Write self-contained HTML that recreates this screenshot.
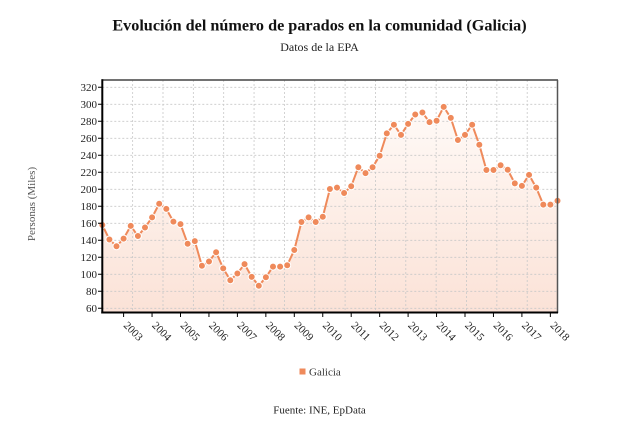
<!DOCTYPE html>
<html><head><meta charset="utf-8"><style>
html,body{margin:0;padding:0;background:#fff;}
svg{display:block;font-family:"Liberation Serif",serif;}
</style></head><body>
<svg width="639" height="431" viewBox="0 0 639 431" xmlns="http://www.w3.org/2000/svg">
<defs>
<linearGradient id="g" x1="0" y1="0" x2="0" y2="1">
<stop offset="0" stop-color="#fffaf7"/>
<stop offset="1" stop-color="#fbe2d7"/>
</linearGradient>
</defs>
<rect width="639" height="431" fill="#fff"/>
<text x="319.5" y="30.5" text-anchor="middle" font-size="16.2" font-weight="bold" fill="#111">Evolución del número de parados en la comunidad (Galicia)</text>
<text x="319.5" y="51" text-anchor="middle" font-size="12" fill="#222">Datos de la EPA</text>
<text transform="translate(35,204) rotate(-90)" text-anchor="middle" font-size="11" fill="#555">Personas (Miles)</text>

<!-- area -->
<polygon fill="url(#g)" points="102.3,312.5 102.3,225 109.4,239.45 116.5,246.25 123.6,238.6 130.75,225.85 137.9,236.05 145,227.55 152.1,217.35 159.2,203.75 166.3,208.85 173.4,221.6 180.5,224.15 187.65,243.7 194.8,241.15 201.9,265.8 209,261.55 216.1,252.2 223.2,268.35 230.3,280.25 237.4,273.45 244.55,264.1 251.7,276.85 258.8,285.7 265.9,277.3 273,266.65 280.1,266.65 287.2,265.3 294.3,250 301.45,222 308.6,217.35 315.7,222 322.8,216.7 329.9,189 337,187.6 344.1,193 351.2,186.3 358.35,167.2 365.5,173.15 372.6,167.2 379.7,155.7 386.8,133.4 393.9,124.7 401,134.9 408.1,123.85 415.25,114.5 422.4,112.55 429.5,122.15 436.6,120.7 443.7,106.85 450.8,117.9 457.9,140 465,134.9 472.15,124.7 479.3,144.7 486.4,170 493.5,170 500.6,165.3 507.7,169.75 514.8,183.35 521.9,185.9 529.05,174.85 536.2,187.6 543.3,204.6 550.4,204.6 557.5,200.7 557.5,312.5"/>

<!-- grid -->
<g stroke="#c8c8c8" stroke-width="0.8" stroke-dasharray="2,2" fill="none">
<path d="M102.3 308.3H557.5M102.3 291.3H557.5M102.3 274.3H557.5M102.3 257.3H557.5M102.3 240.3H557.5M102.3 223.3H557.5M102.3 206.3H557.5M102.3 189.3H557.5M102.3 172.3H557.5M102.3 155.3H557.5M102.3 138.3H557.5M102.3 121.3H557.5M102.3 104.3H557.5M102.3 87.3H557.5"/>
<path d="M132.65 80V312.5M163 80V312.5M193.35 80V312.5M223.7 80V312.5M254.05 80V312.5M284.4 80V312.5M314.75 80V312.5M345.1 80V312.5M375.45 80V312.5M405.8 80V312.5M436.15 80V312.5M466.5 80V312.5M496.85 80V312.5M527.2 80V312.5"/>
</g>

<!-- line -->
<polyline fill="none" stroke="#ef8a5b" stroke-width="2" stroke-linejoin="round" points="102.3,225 109.4,239.45 116.5,246.25 123.6,238.6 130.75,225.85 137.9,236.05 145,227.55 152.1,217.35 159.2,203.75 166.3,208.85 173.4,221.6 180.5,224.15 187.65,243.7 194.8,241.15 201.9,265.8 209,261.55 216.1,252.2 223.2,268.35 230.3,280.25 237.4,273.45 244.55,264.1 251.7,276.85 258.8,285.7 265.9,277.3 273,266.65 280.1,266.65 287.2,265.3 294.3,250 301.45,222 308.6,217.35 315.7,222 322.8,216.7 329.9,189 337,187.6 344.1,193 351.2,186.3 358.35,167.2 365.5,173.15 372.6,167.2 379.7,155.7 386.8,133.4 393.9,124.7 401,134.9 408.1,123.85 415.25,114.5 422.4,112.55 429.5,122.15 436.6,120.7 443.7,106.85 450.8,117.9 457.9,140 465,134.9 472.15,124.7 479.3,144.7 486.4,170 493.5,170 500.6,165.3 507.7,169.75 514.8,183.35 521.9,185.9 529.05,174.85 536.2,187.6 543.3,204.6 550.4,204.6 557.5,200.7"/>

<!-- markers -->
<g fill="#ef8a5b" stroke="#fff" stroke-width="1">
<circle cx="102.3" cy="225" r="3.5"/><circle cx="109.4" cy="239.45" r="3.5"/><circle cx="116.5" cy="246.25" r="3.5"/><circle cx="123.6" cy="238.6" r="3.5"/><circle cx="130.75" cy="225.85" r="3.5"/><circle cx="137.9" cy="236.05" r="3.5"/><circle cx="145" cy="227.55" r="3.5"/><circle cx="152.1" cy="217.35" r="3.5"/><circle cx="159.2" cy="203.75" r="3.5"/><circle cx="166.3" cy="208.85" r="3.5"/><circle cx="173.4" cy="221.6" r="3.5"/><circle cx="180.5" cy="224.15" r="3.5"/><circle cx="187.65" cy="243.7" r="3.5"/><circle cx="194.8" cy="241.15" r="3.5"/><circle cx="201.9" cy="265.8" r="3.5"/><circle cx="209" cy="261.55" r="3.5"/><circle cx="216.1" cy="252.2" r="3.5"/><circle cx="223.2" cy="268.35" r="3.5"/><circle cx="230.3" cy="280.25" r="3.5"/><circle cx="237.4" cy="273.45" r="3.5"/><circle cx="244.55" cy="264.1" r="3.5"/><circle cx="251.7" cy="276.85" r="3.5"/><circle cx="258.8" cy="285.7" r="3.5"/><circle cx="265.9" cy="277.3" r="3.5"/><circle cx="273" cy="266.65" r="3.5"/><circle cx="280.1" cy="266.65" r="3.5"/><circle cx="287.2" cy="265.3" r="3.5"/><circle cx="294.3" cy="250" r="3.5"/><circle cx="301.45" cy="222" r="3.5"/><circle cx="308.6" cy="217.35" r="3.5"/><circle cx="315.7" cy="222" r="3.5"/><circle cx="322.8" cy="216.7" r="3.5"/><circle cx="329.9" cy="189" r="3.5"/><circle cx="337" cy="187.6" r="3.5"/><circle cx="344.1" cy="193" r="3.5"/><circle cx="351.2" cy="186.3" r="3.5"/><circle cx="358.35" cy="167.2" r="3.5"/><circle cx="365.5" cy="173.15" r="3.5"/><circle cx="372.6" cy="167.2" r="3.5"/><circle cx="379.7" cy="155.7" r="3.5"/><circle cx="386.8" cy="133.4" r="3.5"/><circle cx="393.9" cy="124.7" r="3.5"/><circle cx="401" cy="134.9" r="3.5"/><circle cx="408.1" cy="123.85" r="3.5"/><circle cx="415.25" cy="114.5" r="3.5"/><circle cx="422.4" cy="112.55" r="3.5"/><circle cx="429.5" cy="122.15" r="3.5"/><circle cx="436.6" cy="120.7" r="3.5"/><circle cx="443.7" cy="106.85" r="3.5"/><circle cx="450.8" cy="117.9" r="3.5"/><circle cx="457.9" cy="140" r="3.5"/><circle cx="465" cy="134.9" r="3.5"/><circle cx="472.15" cy="124.7" r="3.5"/><circle cx="479.3" cy="144.7" r="3.5"/><circle cx="486.4" cy="170" r="3.5"/><circle cx="493.5" cy="170" r="3.5"/><circle cx="500.6" cy="165.3" r="3.5"/><circle cx="507.7" cy="169.75" r="3.5"/><circle cx="514.8" cy="183.35" r="3.5"/><circle cx="521.9" cy="185.9" r="3.5"/><circle cx="529.05" cy="174.85" r="3.5"/><circle cx="536.2" cy="187.6" r="3.5"/><circle cx="543.3" cy="204.6" r="3.5"/><circle cx="550.4" cy="204.6" r="3.5"/><circle cx="557.5" cy="200.7" r="3.5"/>
</g>

<!-- frame -->
<line x1="101.5" y1="80" x2="558" y2="80" stroke="#444" stroke-width="1.5"/>
<line x1="557.5" y1="80" x2="557.5" y2="313" stroke="#555" stroke-width="1.5"/>
<line x1="102.3" y1="79.3" x2="102.3" y2="313.5" stroke="#000" stroke-width="2"/>
<line x1="101.3" y1="312.5" x2="558" y2="312.5" stroke="#000" stroke-width="2"/>

<!-- y ticks -->
<g stroke="#000" stroke-width="1">
<path d="M98 308.3H102M98 291.3H102M98 274.3H102M98 257.3H102M98 240.3H102M98 223.3H102M98 206.3H102M98 189.3H102M98 172.3H102M98 155.3H102M98 138.3H102M98 121.3H102M98 104.3H102M98 87.3H102"/>
</g>
<g font-size="11" fill="#222" text-anchor="end">
<text x="97" y="312">60</text><text x="97" y="295">80</text><text x="97" y="278">100</text><text x="97" y="261">120</text><text x="97" y="244">140</text><text x="97" y="227">160</text><text x="97" y="210">180</text><text x="97" y="193">200</text><text x="97" y="176">220</text><text x="97" y="159">240</text><text x="97" y="142">260</text><text x="97" y="125">280</text><text x="97" y="108">300</text><text x="97" y="91">320</text>
</g>

<!-- x ticks -->
<g stroke="#000" stroke-width="1">
<path d="M123.6 312.5V317M152.05 312.5V317M180.5 312.5V317M208.95 312.5V317M237.4 312.5V317M265.85 312.5V317M294.3 312.5V317M322.75 312.5V317M351.2 312.5V317M379.65 312.5V317M408.1 312.5V317M436.55 312.5V317M465 312.5V317M493.45 312.5V317M521.9 312.5V317M550.35 312.5V317"/>
</g>
<g font-size="11" fill="#222">
<text transform="translate(123,326) rotate(45)">2003</text>
<text transform="translate(151.45,326) rotate(45)">2004</text>
<text transform="translate(179.9,326) rotate(45)">2005</text>
<text transform="translate(208.35,326) rotate(45)">2006</text>
<text transform="translate(236.8,326) rotate(45)">2007</text>
<text transform="translate(265.25,326) rotate(45)">2008</text>
<text transform="translate(293.7,326) rotate(45)">2009</text>
<text transform="translate(322.15,326) rotate(45)">2010</text>
<text transform="translate(350.6,326) rotate(45)">2011</text>
<text transform="translate(379.05,326) rotate(45)">2012</text>
<text transform="translate(407.5,326) rotate(45)">2013</text>
<text transform="translate(435.95,326) rotate(45)">2014</text>
<text transform="translate(464.4,326) rotate(45)">2015</text>
<text transform="translate(492.85,326) rotate(45)">2016</text>
<text transform="translate(521.3,326) rotate(45)">2017</text>
<text transform="translate(549.75,326) rotate(45)">2018</text>
</g>

<!-- legend -->
<rect x="299.5" y="368.5" width="6" height="6" fill="#ef8a5b"/>
<text x="309" y="375.5" font-size="11" fill="#333">Galicia</text>

<text x="319.5" y="413.5" text-anchor="middle" font-size="11" fill="#222">Fuente: INE, EpData</text>
</svg>
</body></html>
